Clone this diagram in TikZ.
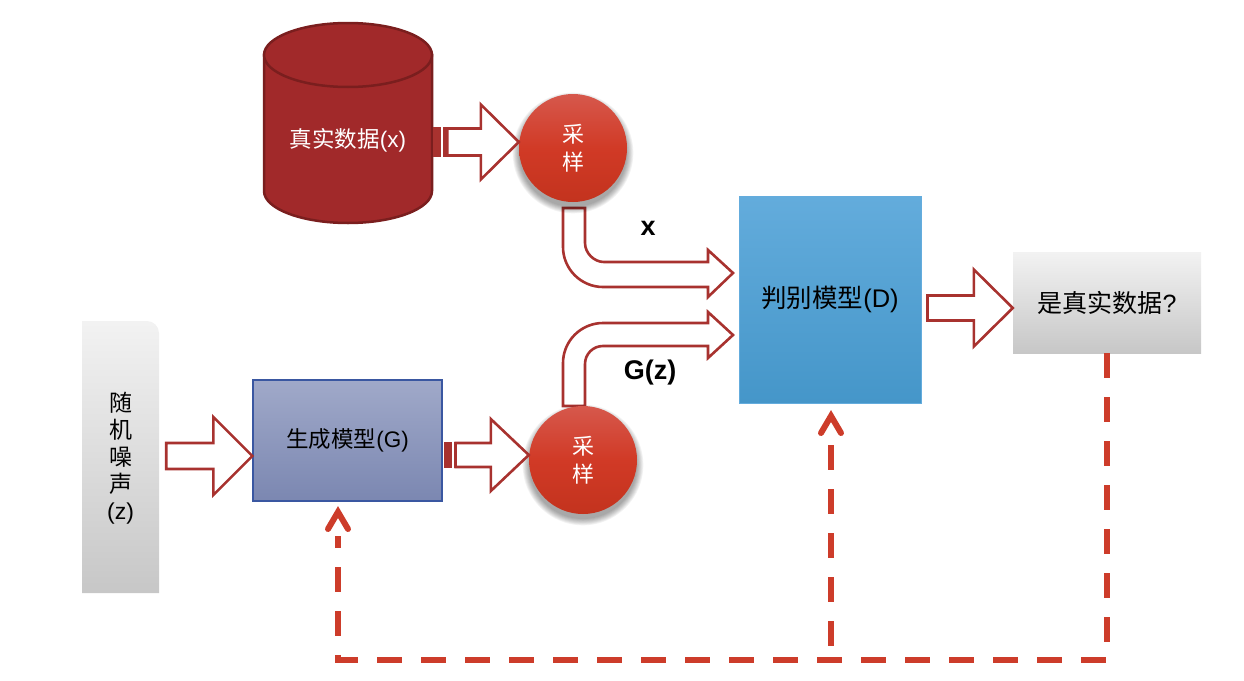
\documentclass[tikz,border=0pt]{standalone}
\usepackage{fontspec}
\setmainfont{Liberation Sans}
\newfontfamily\cjk{Noto Sans CJK SC}
\usetikzlibrary{calc}
\definecolor{cylred}{HTML}{A1292A}
\definecolor{cylborder}{HTML}{7A1E1E}
\definecolor{arrowred}{HTML}{A8322F}
\definecolor{sampTop}{HTML}{D6584C}
\definecolor{sampMid}{HTML}{D13A26}
\definecolor{sampBot}{HTML}{C3331E}
\definecolor{dTop}{HTML}{63ACDC}
\definecolor{dBot}{HTML}{4596C9}
\definecolor{dBorder}{HTML}{64ACDD}
\definecolor{gTop}{HTML}{A0A9C9}
\definecolor{gBot}{HTML}{7B87B1}
\definecolor{gBorder}{HTML}{3A57A1}
\definecolor{dashred}{HTML}{CD3C2A}
\newcommand\fsz[2]{\fontsize{#1pt}{#2pt}\selectfont}
\newcommand\hblock[7]{\draw[blockarrow] let \p1=(#1), \p2=(#3), \p3=(0,#4) in
 (\x1+#2pt,\y3+#5pt) -- (\x2-#7pt,\y3+#5pt) -- (\x2-#7pt,\y3+#6pt) -- (\x2,\y3) -- (\x2-#7pt,\y3-#6pt) -- (\x2-#7pt,\y3-#5pt) -- (\x1+#2pt,\y3-#5pt) -- cycle;}
\newcommand\stripes[3]{%
 \fill[arrowred] let \p1=(#1), \p3=(0,#2) in (\x1+1pt,\y3-#3pt) rectangle (\x1+9pt,\y3+#3pt);
 \fill[arrowred] let \p1=(#1), \p3=(0,#2) in (\x1+11pt,\y3-#3pt) rectangle (\x1+13.5pt,\y3+#3pt);}
\begin{document}
\begin{tikzpicture}[x=1pt,y=-1pt,
  blockarrow/.style={draw=arrowred,line width=2.6pt,fill=white,line join=miter},
  samp/.style={circle,minimum size=108pt,inner sep=0pt,top color=sampTop,bottom color=sampBot,middle color=sampMid,text=white,align=center,font=\cjk\fsz{22}{28}},
  dashline/.style={draw=dashred,line width=6pt,dash pattern=on 25pt off 19pt,line join=miter},
  chev/.style={draw=dashred,line width=6pt,line cap=round,line join=miter},
  lbl/.style={font=\bfseries\fsz{27}{30}}]
\useasboundingbox (0,0) rectangle (1244,680);

% cylinder
\filldraw[fill=cylred,draw=cylborder,line width=2.5pt]
  (264,55) -- (264,191) .. controls (264,208.7) and (301.6,223) .. (348,223)
  .. controls (394.4,223) and (432,208.7) .. (432,191) -- (432,55) -- cycle;
\filldraw[fill=cylred,draw=cylborder,line width=2.5pt] (348,55) ellipse[x radius=84,y radius=32];
\node[inner sep=0pt,minimum width=168pt,minimum height=60pt,text=white,font=\fsz{22.5}{26}] (cyl) at (348,140) {{\cjk 真实数据}(x)};

% noise box
\shade[top color=black!5,bottom color=black!22] (82,593) -- (82,321) -- (147,321) .. controls (153.6,321) and (159,326.4) .. (159,333) -- (159,593) -- cycle;
\node[inner sep=0pt,minimum width=77pt,minimum height=272pt,align=center,font=\fsz{23}{27}] (noise) at (120.5,458) {{\cjk 随}\\{\cjk 机}\\{\cjk 噪}\\{\cjk 声}\\(z)};

% boxes
\node[draw=gBorder,line width=1.3pt,top color=gTop,bottom color=gBot,minimum width=189pt,minimum height=121pt,inner sep=0pt,font=\fsz{22.5}{26}] (G) at (347.5,440.5) {{\cjk 生成模型}(G)};
\node[draw=dBorder,line width=1pt,top color=dTop,bottom color=dBot,minimum width=182pt,minimum height=207pt,inner sep=0pt,font=\fsz{25.5}{30}] (D) at (830,299.5) {{\cjk 判别模型}(D)};
\node[top color=black!5,bottom color=black!22,minimum width=188pt,minimum height=101pt,inner sep=0pt,font=\fsz{25}{30}] (J) at (1107,302.5) {{\cjk 是真实数据}?};

% bent arrows
\draw[blockarrow] (563,208) -- (563,247) .. controls (563,269) and (581,287) .. (603,287) -- (708,287) -- (708,297) -- (733,273) -- (708,250) -- (708,262) -- (604,262) .. controls (594,262) and (585,253) .. (585,243) -- (585,208) -- cycle;
\draw[blockarrow] (563,406) -- (563,363) .. controls (563,341) and (581,323) .. (603,323) -- (708,323) -- (708,312) -- (733,335) -- (708,358) -- (708,346) -- (603,346) .. controls (593,346) and (585,354) .. (585,364) -- (585,406) -- cycle;

% circle shadows
\foreach \i in {0,...,7} {
  \fill[black,opacity=0.05] (573,153) circle[radius=54+\i*0.9];
  \fill[black,opacity=0.05] (583,465) circle[radius=54+\i*0.9];
}
\node[samp] (s1) at (573,148) {采\\样};
\node[samp] (s2) at (583,460) {采\\样};

% straight block arrows
\stripes{cyl.east}{142}{14.8}
\hblock{cyl.east}{15}{s1.west}{142}{13.5}{37.5}{38}
\stripes{G.east}{455}{13.3}
\hblock{G.east}{13}{s2.west}{455}{12}{36}{38}
\hblock{noise.east}{7}{G.west}{456}{13}{39}{39}
\hblock{D.east}{6}{J.west}{308}{12.5}{38.5}{39}

% labels
\node[lbl] (lx) at (648,228) {x};
\node[lbl] (lg) at (650,373) {G(z)};

% feedback dashed lines
\coordinate (c1) at (1107,660);
\coordinate (c2) at (338,660);
\coordinate (gIn) at (338,536);
\coordinate (m1) at (831,660);
\coordinate (dIn) at (831,445);
\draw[dashline] (J.south) -- (c1) -- (c2) -- (gIn);
\draw[dashline] (dIn) -- (m1);
\draw[chev] (328,529) -- (338,512) -- (348,529);
\draw[chev] (821,433) -- (831,416) -- (841,433);
\end{tikzpicture}
\end{document}
